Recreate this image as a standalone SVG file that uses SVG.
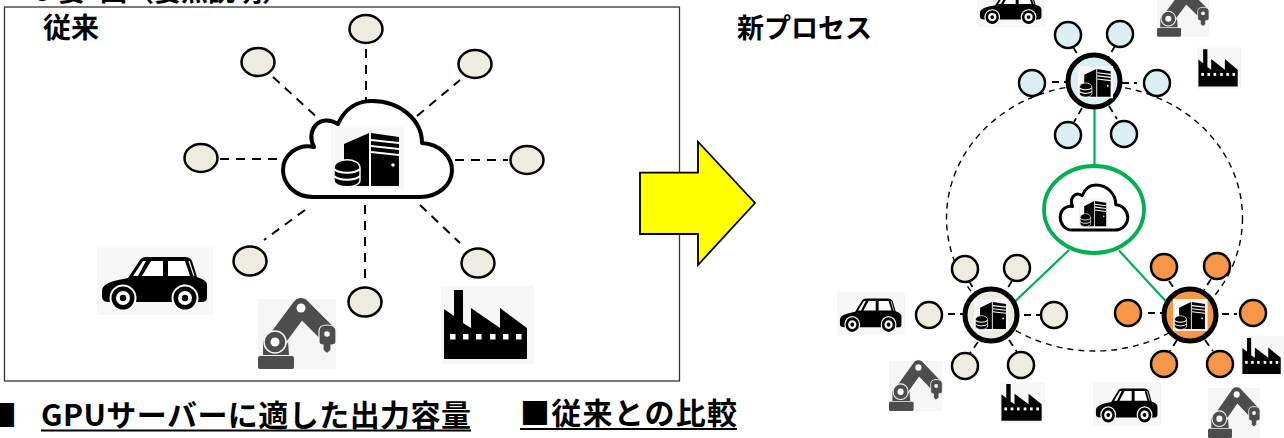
<svg xmlns="http://www.w3.org/2000/svg" xmlns:xlink="http://www.w3.org/1999/xlink" width="1284" height="438" viewBox="0 0 1284 438">
<style>
text{font-family:"Noto Sans CJK JP","Noto Sans",sans-serif;font-weight:700;fill:#000}
.t{font-size:30px}
.h{font-size:27px}
.dash{fill:none;stroke:#000;stroke-width:2;stroke-dasharray:9 7}
.dash2{fill:none;stroke:#000;stroke-width:1.800;stroke-dasharray:7 5}
.big{fill:none;stroke:#000;stroke-width:1.400;stroke-dasharray:6 5}
.green{fill:none;stroke:#00b050;stroke-width:2.200}
.ul{stroke:#000;stroke-width:1.800}
.n{stroke:#000;stroke-width:2.500}
.hub{stroke:#000;stroke-width:5}
.bg{fill:#eeece1}.blue{fill:#daeef3}.orange{fill:#f79646}
.cl{fill:#fff;stroke:#000;stroke-linejoin:round}
.cloudpath{vector-effect:non-scaling-stroke}
</style>
<defs>
<g id="server">
<rect width="73" height="62" fill="#f7f7f7"/>
<path d="M13 17L38 6V59H13Z"/>
<path d="M40 6L68 10V59H40Z"/>
<path d="M40 13L68 16M40 19L68 22M40 25L68 28" stroke="#fff" stroke-width="2.200" fill="none"/>
<circle cx="62" cy="38" r="1.800" fill="#fff"/>
<path d="M3 41C3 30 29 30 29 41V53C29 62 3 62 3 53Z" stroke="#f7f7f7" stroke-width="1.500"/>
<path d="M3 42C8 47 24 47 29 42M3 49C8 54 24 54 29 49" stroke="#fff" stroke-width="2" fill="none"/>
</g>
<g id="car">
<rect width="116" height="68" fill="#f7f7f7"/>
<path d="M5 44C5 37 14 34 31 31L43 13Q45 10 49 10H88Q93 10 95 14L100 30Q110 33 110 38L110 51Q110 55 104 55H12Q5 55 5 50Z"/>
<path d="M36 29L46 14H49L41 29ZM45 29L54 14H66V29ZM71 14H88L93 29H71Z" fill="#fff"/>
<path d="M92 14L97 29" stroke="#fff" stroke-width="1.200"/>
<circle cx="26" cy="51" r="13.500" fill="#fff"/><circle cx="26" cy="51" r="11.500"/><circle cx="26" cy="51" r="7" fill="#fff"/><circle cx="26" cy="51" r="3.200"/>
<circle cx="88" cy="51" r="13.500" fill="#fff"/><circle cx="88" cy="51" r="11.500"/><circle cx="88" cy="51" r="7" fill="#fff"/><circle cx="88" cy="51" r="3.200"/>
</g>
<g id="robot">
<rect width="78" height="70" fill="#f5f5f5"/>
<rect y="57" width="36" height="13" rx="2" fill="#4d4d4d"/>
<path d="M5 56L5 42L30 42L31 56Z" fill="#4d4d4d"/>
<path d="M17 43L43 8L69 34" fill="none" stroke="#f5f5f5" stroke-width="21" stroke-linejoin="round" stroke-linecap="round"/>
<path d="M17 43L43 8L69 34" fill="none" stroke="#4d4d4d" stroke-width="18" stroke-linejoin="round" stroke-linecap="round"/>
<circle cx="17" cy="43" r="11" fill="#4d4d4d" stroke="#f5f5f5" stroke-width="1.500"/><circle cx="17" cy="43" r="4.500" fill="#fff"/>
<circle cx="43" cy="9" r="4.500" fill="#fff"/>
<path d="M61 32Q61 26 69 26Q78 26 78 32V43Q78 46 73 46V51L70 54H68L65 51V46Q61 46 61 43Z" fill="#4d4d4d" stroke="#f5f5f5" stroke-width="1.200"/>
<circle cx="69" cy="35" r="2.800" fill="#fff"/>
</g>
<g id="factory">
<rect width="93" height="78" fill="#f7f7f7"/>
<path d="M3 73V23L13 30V4H22V37L30 42V22L59 42V22L86 42V73Z"/>
<g fill="#fff"><rect x="9" y="48" width="5.500" height="5.500"/><rect x="22" y="48" width="5.500" height="5.500"/><rect x="35" y="48" width="5.500" height="5.500"/><rect x="49" y="48" width="5.500" height="5.500"/><rect x="62" y="48" width="5.500" height="5.500"/><rect x="75" y="48" width="5.500" height="5.500"/></g>
</g>
<path id="cloud" class="cloudpath" d="M313 197C293 197 283 182 283 170C283 155 298 143 314 147C305 130 320 113 338 124C345 108 358 101 372 101C400 101 422 120 422 143C440 144 452 157 452 170C452 185 438 197 420 197Z"/>
</defs>

<rect x="4.500" y="7" width="675" height="374" fill="#fff" stroke="#333" stroke-width="1.300"/>
<g id="heading"><text class="h" x="35" y="1">3</text><text class="h" x="58" y="1">要</text><text class="h" x="100" y="1">図</text><text class="h" x="127" y="1">（要点説明）</text></g>
<text id="label-old" x="43" y="38" font-size="28">従来</text>
<text id="label-new" x="737" y="38" font-size="27">新プロセス</text>

<g id="connectors">
<path class="dash" d="M366 49V100M273 77L320 120M220 159H280M417 116L460 80M455 160H508M305 210L264 240M365 205V283M420 205L460 243"/>
<ellipse class="big" cx="1094.500" cy="218" rx="148" ry="133"/>
<path class="dash2" d="M1073 47L1080 58M1115 46L1108 58M1052 82H1067M1122 83H1137M1082 108L1074 122M1109 106L1117 119"/>
<path class="dash2" d="M969 281L976 293M1012 281L1005 292M948 314H963M1024 315H1040M978 342L970 353M1009 340L1017 352"/>
<path class="dash2" d="M1169 281L1176 291M1211 279L1204 290M1148 313H1163M1222 314H1237M1177 340L1170 351M1205 340L1213 351"/>
<path class="green" d="M1094.500 108V166M1014 302.500L1069 250M1119 250.500L1167 302.500"/>
</g>

<g id="arrow"><path d="M640 172.700H698V141.700L755 203L698 265V234H640Z" fill="#ff0" stroke="#000" stroke-width="1.800"/></g>

<g id="old-cloud"><use href="#cloud" class="cl" stroke-width="4"/><use href="#server" transform="translate(331 127)"/></g>
<g id="old-nodes">
<ellipse class="n bg" cx="366" cy="29" rx="16.500" ry="14"/><ellipse class="n bg" cx="258" cy="62" rx="16.500" ry="14"/><ellipse class="n bg" cx="475" cy="64" rx="16.500" ry="14"/><ellipse class="n bg" cx="201" cy="158" rx="16.500" ry="14"/><ellipse class="n bg" cx="527" cy="160" rx="16.500" ry="14"/><ellipse class="n bg" cx="250" cy="261" rx="16.500" ry="14.500"/><ellipse class="n bg" cx="365" cy="302" rx="16.500" ry="14.500"/><ellipse class="n bg" cx="478" cy="263" rx="16.500" ry="14.500"/>
</g>
<use id="car-1" href="#car" transform="translate(97 247)"/>
<use id="robot-1" href="#robot" transform="translate(258 299)"/>
<use id="factory-1" href="#factory" transform="translate(441 286)"/>

<g id="center"><ellipse cx="1094" cy="209.500" rx="50" ry="43.500" fill="#fff" stroke="#00b050" stroke-width="3.800"/>
<use href="#cloud" class="cl" stroke-width="3" transform="translate(1094 207.500) scale(.4 .47) translate(-367.500 -149)"/>
<use href="#server" transform="translate(1079 198) scale(.4 .48)"/></g>

<g id="hub-top"><circle class="hub blue" cx="1094" cy="81" r="26"/><use href="#server" transform="translate(1078 66) scale(.48 .52)"/>
<circle class="n blue" cx="1068" cy="35" r="13"/><circle class="n blue" cx="1120" cy="34" r="13"/><circle class="n blue" cx="1032" cy="83" r="13"/><circle class="n blue" cx="1157" cy="83" r="13"/><circle class="n blue" cx="1068" cy="135" r="13"/><circle class="n blue" cx="1124" cy="134" r="13"/></g>
<g id="hub-left"><circle class="hub bg" cx="991" cy="315" r="26"/><use href="#server" transform="translate(974 299) scale(.47 .51)"/>
<circle class="n bg" cx="965" cy="269" r="13"/><circle class="n bg" cx="1017" cy="268" r="13"/><circle class="n bg" cx="929" cy="315" r="13"/><circle class="n bg" cx="1054" cy="315" r="13"/><circle class="n bg" cx="965" cy="366" r="13"/><circle class="n bg" cx="1021" cy="365" r="13"/></g>
<g id="hub-right"><circle class="hub orange" cx="1190" cy="315" r="26"/><g transform="translate(1173 299) scale(.47 .51)"><rect width="73" height="62" fill="#fff"/><use href="#server"/></g>
<circle class="n orange" cx="1164" cy="267" r="13"/><circle class="n orange" cx="1217" cy="266" r="13"/><circle class="n orange" cx="1128" cy="313" r="13"/><circle class="n orange" cx="1253" cy="313" r="13"/><circle class="n orange" cx="1164" cy="364" r="13"/><circle class="n orange" cx="1220" cy="364" r="13"/></g>

<use id="car-2" href="#car" transform="translate(977 -13) scale(.586 .59)"/>
<use id="robot-2" href="#robot" transform="translate(1157 -10) scale(.667)"/>
<use id="factory-2" href="#factory" transform="translate(1197 47) scale(.473 .54)"/>
<use id="car-3" href="#car" transform="translate(837 292) scale(.586 .64)"/>
<use id="robot-3" href="#robot" transform="translate(889 361) scale(.684 .714)"/>
<use id="factory-3" href="#factory" transform="translate(1000 382) scale(.484 .53)"/>
<use id="car-4" href="#car" transform="translate(1093 382) scale(.586 .647)"/>
<use id="robot-4" href="#robot" transform="translate(1208 388) scale(.667 .714)"/>
<use id="factory-4" href="#factory" transform="translate(1241 336) scale(.462 .52)"/>

<g id="footer">
<text class="t" x="-13" y="426">■</text>
<text class="t" x="41" y="426" textLength="430" lengthAdjust="spacing">GPUサーバーに適した出力容量</text>
<line class="ul" x1="41" y1="430.500" x2="471" y2="430.500"/>
<text class="t" x="520" y="424" textLength="217" lengthAdjust="spacing">■従来との比較</text>
<line class="ul" x1="520" y1="429" x2="737" y2="429"/>
</g>
</svg>
